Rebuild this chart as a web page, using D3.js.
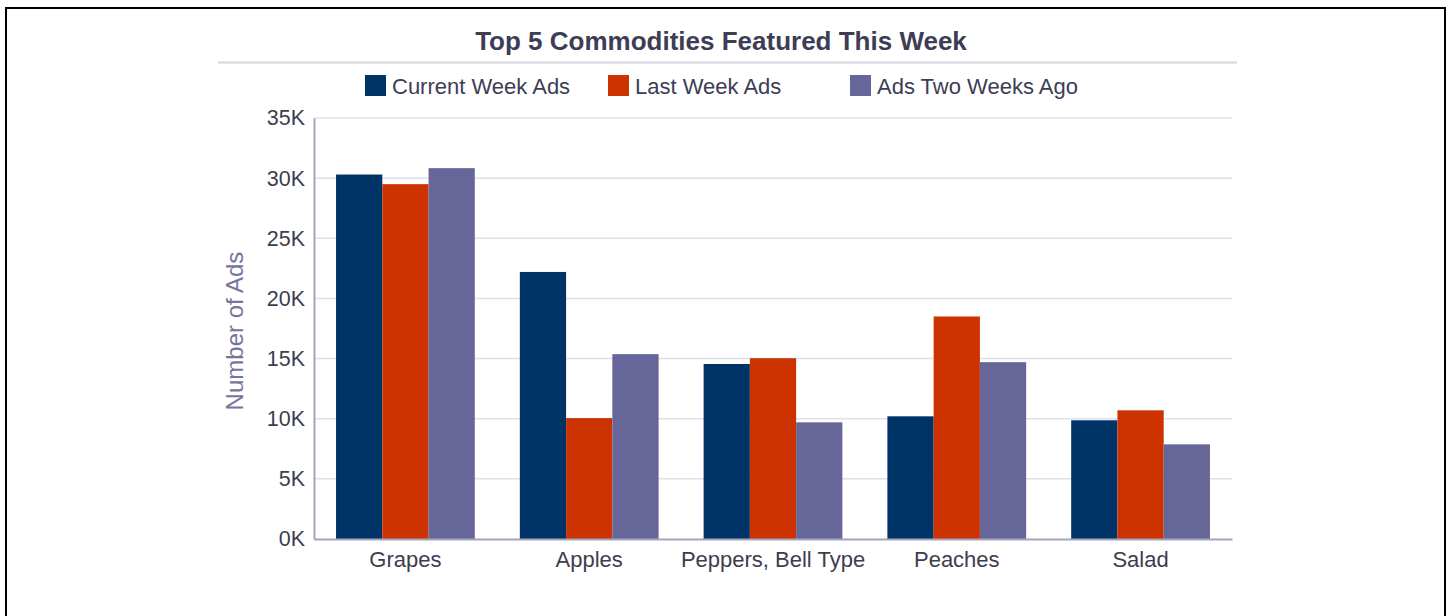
<!DOCTYPE html>
<html>
<head>
<meta charset="utf-8">
<script src="https://cdn.jsdelivr.net/npm/d3@7/dist/d3.min.js"></script>
<style>
  html, body { margin: 0; padding: 0; background: #fff; }
  svg { display: block; font-family: "Liberation Sans", Arial, sans-serif; }
</style>
</head>
<body>
<svg id="chart" width="1452" height="616"></svg>
<script>
const categories = ["Grapes", "Apples", "Peppers, Bell Type", "Peaches", "Salad"];
const seriesNames = ["Current Week Ads", "Last Week Ads", "Ads Two Weeks Ago"];
const currentWeek = [30300, 22200, 14550, 10200, 9870];
const lastWeek = [29500, 10050, 15030, 18500, 10700];
const twoWeeksAgo = [30830, 15370, 9700, 14700, 7870];
const yTicks = [0, 5000, 10000, 15000, 20000, 25000, 30000, 35000];
const colors = ["#003366", "#cc3300", "#666699"];
const titleText = "Top 5 Commodities Featured This Week";
const yLabel = "Number of Ads";

const series = [currentWeek, lastWeek, twoWeeksAgo];
const svg = d3.select("#chart");
const FONT = "'Liberation Sans', Arial, sans-serif";

// outer frame (open at the bottom)
svg.append("path")
  .attr("d", "M6,616 L6,8 L1445,8 L1445,616")
  .attr("fill", "none").attr("stroke", "#000").attr("stroke-width", 2);

const plot = { left: 314, right: 1232, top: 118, bottom: 539 };

const x0 = d3.scaleBand().domain(categories)
  .range([plot.left, plot.right]).paddingInner(0.245).paddingOuter(0.12);
const x1 = d3.scaleBand().domain(d3.range(series.length))
  .range([0, x0.bandwidth()]).padding(0);
const y = d3.scaleLinear().domain([0, 35000]).range([plot.bottom, plot.top]);

// title
svg.append("text").attr("x", 721).attr("y", 50)
  .attr("text-anchor", "middle").attr("font-size", 26).attr("font-weight", "bold")
  .attr("fill", "#3d3d55").text(titleText);
svg.append("line").attr("x1", 218).attr("x2", 1237).attr("y1", 62.5).attr("y2", 62.5)
  .attr("stroke", "#dcdce4").attr("stroke-width", 2.5);

// legend
const legendX = [365, 608, 850];
const lg = svg.append("g");
seriesNames.forEach((name, i) => {
  lg.append("rect").attr("x", legendX[i]).attr("y", 75).attr("width", 21).attr("height", 21)
    .attr("fill", colors[i]);
  lg.append("text").attr("x", legendX[i] + 27).attr("y", 94)
    .attr("font-size", 22).attr("fill", "#3d3d55").text(name);
});

// gridlines
svg.append("g").selectAll("line").data(yTicks.filter(t => t > 0)).join("line")
  .attr("x1", plot.left).attr("x2", plot.right)
  .attr("y1", d => y(d)).attr("y2", d => y(d))
  .attr("stroke", "#e0e0ea").attr("stroke-width", 1.5);

// bars
const groups = svg.append("g").selectAll("g").data(categories).join("g")
  .attr("transform", d => `translate(${x0(d)},0)`);
groups.selectAll("rect")
  .data((d, ci) => series.map((s, si) => ({ si, v: s[ci] })))
  .join("rect")
  .attr("x", d => x1(d.si))
  .attr("width", x1.bandwidth())
  .attr("y", d => y(d.v))
  .attr("height", d => y(0) - y(d.v))
  .attr("fill", d => colors[d.si]);

// y axis
const yAxis = svg.append("g").attr("transform", `translate(${plot.left},0)`)
  .call(d3.axisLeft(y).tickValues(yTicks).tickSize(0).tickPadding(9)
    .tickFormat(d => (d / 1000) + "K"));
yAxis.select(".domain").attr("stroke", "#a4a4c0").attr("stroke-width", 2);
yAxis.selectAll("text").attr("font-size", 21.5).attr("fill", "#3d3d4f")
  .attr("font-family", FONT);

// x axis
const xAxis = svg.append("g").attr("transform", `translate(0,${plot.bottom})`)
  .call(d3.axisBottom(x0).tickSize(0).tickPadding(12).tickSizeOuter(0));
xAxis.select(".domain").attr("stroke", "#a4a4c0").attr("stroke-width", 2);
xAxis.selectAll("text").attr("font-size", 22).attr("fill", "#3d3d4f")
  .attr("font-family", FONT);

// y axis title
svg.append("text")
  .attr("transform", `translate(243,331) rotate(-90)`)
  .attr("text-anchor", "middle").attr("font-size", 24).attr("fill", "#75759c")
  .text(yLabel);
</script>
</body>
</html>
